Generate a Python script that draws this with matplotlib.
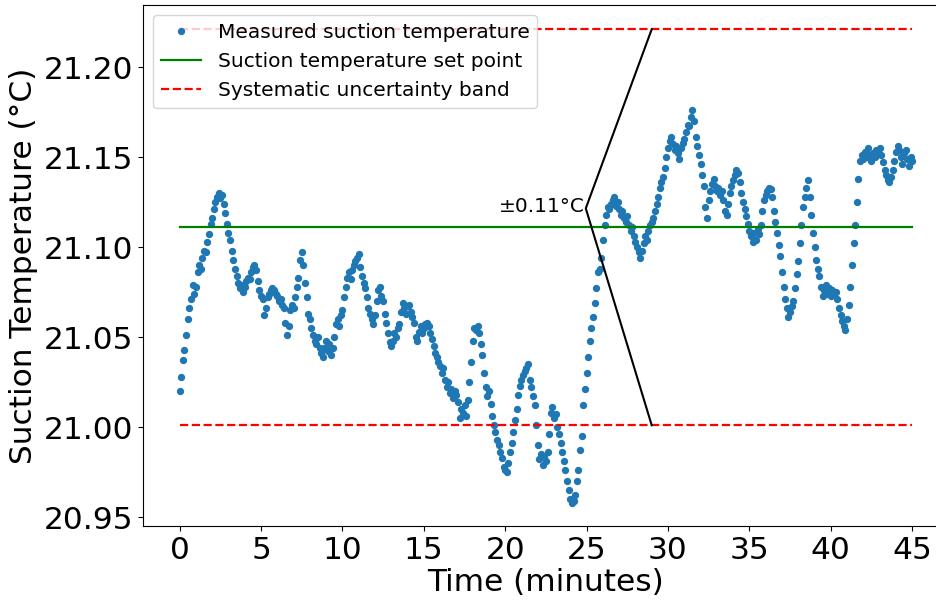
import numpy as np
import matplotlib
matplotlib.use("Agg")
import matplotlib.pyplot as plt

# suction temperature readings, one every 0.1 min (one row per minute)
temp = [
    21.020, 21.028, 21.037, 21.043, 21.051, 21.060, 21.066, 21.071, 21.079, 21.074,
    21.078, 21.086, 21.090, 21.088, 21.094, 21.098, 21.097, 21.103, 21.107, 21.113,
    21.116, 21.121, 21.125, 21.128, 21.130, 21.127, 21.129, 21.124, 21.119, 21.113,
    21.108, 21.104, 21.098, 21.093, 21.088, 21.084, 21.080, 21.077, 21.079, 21.075,
    21.078, 21.081, 21.083, 21.082, 21.086, 21.089, 21.090, 21.087, 21.081, 21.076,
    21.073, 21.071, 21.062, 21.066, 21.072, 21.074, 21.076, 21.077, 21.076, 21.074,
    21.073, 21.070, 21.071, 21.068, 21.066, 21.058, 21.051, 21.056, 21.065, 21.068,
    21.066, 21.072, 21.078, 21.083, 21.093, 21.097, 21.090, 21.080, 21.072, 21.063,
    21.060, 21.055, 21.051, 21.048, 21.046, 21.050, 21.044, 21.041, 21.039, 21.044,
    21.048, 21.042, 21.046, 21.040, 21.044, 21.050, 21.057, 21.060, 21.056, 21.062,
    21.065, 21.072, 21.078, 21.083, 21.086, 21.082, 21.087, 21.090, 21.092, 21.094,
    21.096, 21.089, 21.084, 21.080, 21.077, 21.072, 21.066, 21.063, 21.060, 21.057,
    21.062, 21.070, 21.076, 21.078, 21.073, 21.070, 21.063, 21.058, 21.052, 21.047,
    21.045, 21.048, 21.052, 21.050, 21.055, 21.057, 21.064, 21.069, 21.066, 21.063,
    21.067, 21.068, 21.064, 21.061, 21.058, 21.050, 21.048, 21.053, 21.056, 21.052,
    21.055, 21.057, 21.058, 21.056, 21.052, 21.049, 21.045, 21.041, 21.039, 21.036,
    21.034, 21.030, 21.033, 21.026, 21.022, 21.025, 21.019, 21.021, 21.016, 21.020,
    21.018, 21.014, 21.005, 21.010, 21.008, 21.012, 21.006, 21.015, 21.025, 21.036,
    21.048, 21.055, 21.054, 21.056, 21.052, 21.046, 21.040, 21.030, 21.022, 21.017,
    21.020, 21.013, 21.006, 21.001, 20.997, 20.993, 20.990, 20.986, 20.983, 20.978,
    20.976, 20.975, 20.980, 20.986, 20.991, 20.997, 21.004, 21.010, 21.018, 21.023,
    21.026, 21.029, 21.031, 21.033, 21.035, 21.026, 21.022, 21.017, 21.012, 21.001,
    20.990, 20.982, 20.985, 20.979, 20.984, 20.981, 20.986, 20.996, 21.008, 21.011,
    21.005, 21.007, 21.000, 20.996, 20.991, 20.986, 20.981, 20.976, 20.970, 20.965,
    20.960, 20.958, 20.959, 20.962, 20.970, 20.976, 20.987, 20.995, 21.012, 21.021,
    21.030, 21.039, 21.048, 21.055, 21.061, 21.069, 21.077, 21.086, 21.088, 21.094,
    21.104, 21.112, 21.118, 21.122, 21.121, 21.124, 21.126, 21.128, 21.123, 21.125,
    21.121, 21.118, 21.120, 21.116, 21.114, 21.117, 21.112, 21.109, 21.111, 21.106,
    21.103, 21.100, 21.097, 21.094, 21.098, 21.102, 21.106, 21.104, 21.109, 21.112,
    21.114, 21.116, 21.120, 21.124, 21.128, 21.133, 21.136, 21.139, 21.144, 21.150,
    21.155, 21.159, 21.161, 21.157, 21.154, 21.156, 21.152, 21.149, 21.155, 21.158,
    21.160, 21.164, 21.168, 21.167, 21.172, 21.176, 21.170, 21.161, 21.156, 21.151,
    21.146, 21.140, 21.134, 21.122, 21.116, 21.126, 21.131, 21.135, 21.138, 21.134,
    21.131, 21.133, 21.129, 21.131, 21.126, 21.120, 21.118, 21.124, 21.130, 21.134,
    21.137, 21.140, 21.143, 21.141, 21.136, 21.130, 21.125, 21.121, 21.117, 21.113,
    21.109, 21.106, 21.103, 21.108, 21.104, 21.110, 21.107, 21.112, 21.120, 21.126,
    21.129, 21.131, 21.133, 21.132, 21.128, 21.120, 21.114, 21.108, 21.101, 21.095,
    21.086, 21.078, 21.071, 21.066, 21.061, 21.064, 21.067, 21.070, 21.077, 21.085,
    21.092, 21.102, 21.112, 21.122, 21.128, 21.133, 21.137, 21.128, 21.118, 21.108,
    21.100, 21.093, 21.088, 21.084, 21.078, 21.073, 21.076, 21.079, 21.074, 21.077,
    21.073, 21.076, 21.074, 21.075, 21.071, 21.066, 21.062, 21.059, 21.056, 21.054,
    21.060, 21.068, 21.078, 21.090, 21.102, 21.112, 21.125, 21.138, 21.148, 21.151,
    21.149, 21.153, 21.150, 21.155, 21.151, 21.148, 21.152, 21.150, 21.154, 21.152,
    21.155, 21.151, 21.147, 21.143, 21.140, 21.137, 21.136, 21.139, 21.143, 21.148,
    21.153, 21.156, 21.154, 21.150, 21.146, 21.152, 21.154, 21.149, 21.145, 21.150,
    21.148,
]
time_min = np.arange(len(temp)) * 0.1

set_point = 21.111
band_lo = 21.001
band_hi = 21.221
t_start, t_end = 0, 45

# bracket showing the band width
brk_x0, brk_y0 = 24.95, 21.1215
brk_x1 = 29
brk_label = "±0.11°C"

fig = plt.figure(figsize=(9.37, 6.02), dpi=100)
ax = fig.add_axes([0.1526, 0.1262, 0.8600, 0.8655])

ax.plot(time_min, temp, '.', color='#1f77b4', markersize=8.5,
        label='Measured suction temperature')
ax.plot([t_start, t_end], [set_point, set_point], color='green', lw=1.6,
        label='Suction temperature set point')
ax.plot([t_start, t_end], [band_hi, band_hi], 'r--', lw=1.6,
        label='Systematic uncertainty band')
ax.plot([t_start, t_end], [band_lo, band_lo], 'r--', lw=1.6)

ax.plot([brk_x1, brk_x0, brk_x1], [band_hi, brk_y0, band_lo], color='k', lw=1.5)
ax.text(brk_x0 - 0.05, brk_y0 + 0.001, brk_label, ha='right', va='center',
        fontsize=14.5)

ax.set_xlim(-2.25, 47.25)
ax.set_ylim(20.945, 21.2345)
ax.set_xticks(np.arange(0, 50, 5))
ax.set_yticks([20.95, 21.00, 21.05, 21.10, 21.15, 21.20])
ax.set_yticklabels(['20.95', '21.00', '21.05', '21.10', '21.15', '21.20'])
ax.tick_params(labelsize=22.5)

ax.set_xlabel('Time (minutes)', fontsize=22.5, labelpad=2)
ax.set_ylabel('Suction Temperature (°C)', fontsize=22.5)

ax.legend(loc='upper left', fontsize=14.5)

plt.savefig('out.png', dpi=100)
